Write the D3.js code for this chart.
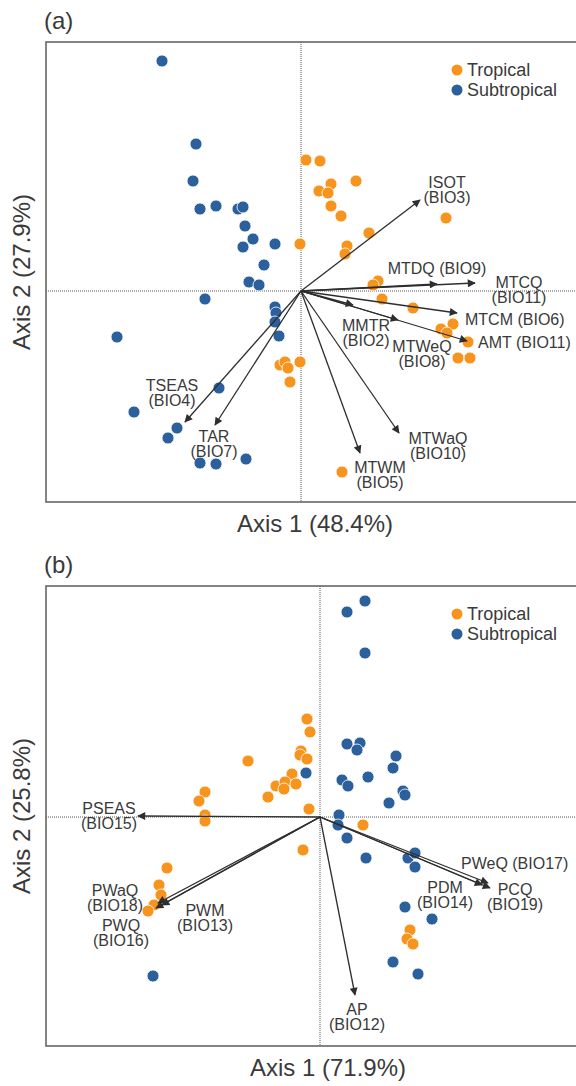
<!DOCTYPE html>
<html><head><meta charset="utf-8">
<script src="https://cdn.jsdelivr.net/npm/d3@7"></script>
<style>
html,body{margin:0;padding:0;background:#fff;}
svg{display:block;font-family:"Liberation Sans",Arial,sans-serif;}
</style></head>
<body>
<svg id="chart" width="576" height="1086"></svg>
<script>
// ---------- DATA ----------
const groups = ["Tropical", "Subtropical"];

// Panel (a): temperature variables
const aAxisX = "Axis 1 (48.4%)";
const aAxisY = "Axis 2 (27.9%)";
const aTropX = [0.05,0.19,0.30,0.18,0.27,0.55,0.30,0.40,1.45,0.68,-0.01,0.46,0.44,0.77,0.72,0.81,1.12,1.52,1.40,1.46,1.67,1.57,1.69,0.41,-0.21,-0.16,-0.13,-0.11,-0.01];
const aTropY = [1.31,1.30,1.07,1.00,0.98,1.10,0.85,0.75,0.73,0.58,0.47,0.45,0.37,0.10,0.06,-0.08,-0.17,-0.33,-0.38,-0.42,-0.51,-0.67,-0.67,-1.81,-0.74,-0.71,-0.77,-0.91,-0.71];
const aSubX = [-1.39,-1.05,-1.08,-1.01,-0.85,-0.63,-0.58,-0.56,-0.48,-0.58,-0.26,-0.37,-0.52,-0.42,-0.96,-0.26,-0.25,-0.26,-0.22,-1.84,-0.82,-1.67,-1.24,-1.33,-1.01,-0.85,-0.55];
const aSubY = [2.30,1.47,1.10,0.82,0.85,0.82,0.84,0.65,0.52,0.44,0.47,0.26,0.09,0.06,-0.08,-0.16,-0.22,-0.31,-0.45,-0.46,-0.97,-1.21,-1.37,-1.47,-1.72,-1.73,-1.68];
const aVarNames = ["ISOT|(BIO3)","MTDQ (BIO9)","MTCQ|(BIO11)","MTCM (BIO6)","AMT (BIO11)","MMTR|(BIO2)","MTWeQ|(BIO8)","TSEAS|(BIO4)","TAR|(BIO7)","MTWM|(BIO5)","MTWaQ|(BIO10)"];
const aVarX = [1.19,1.36,1.74,1.56,1.66,0.52,0.97,-1.16,-0.86,0.59,0.98];
const aVarY = [0.91,0.07,0.08,-0.22,-0.50,-0.14,-0.29,-1.31,-1.34,-1.62,-1.42];

// Panel (b): precipitation variables
const bAxisX = "Axis 1 (71.9%)";
const bAxisY = "Axis 2 (25.8%)";
const bTropX = [-0.13,-0.10,-0.19,-0.20,-0.13,-0.72,-0.28,-0.44,-0.35,-0.24,-0.36,-0.52,-1.15,-1.21,-1.15,-1.15,-0.11,0.43,-0.17,-1.53,-1.61,-1.59,-1.66,-1.72,0.90,0.87,0.93];
const bTropY = [0.98,0.85,0.66,0.62,0.58,0.56,0.43,0.31,0.35,0.33,0.28,0.20,0.25,0.16,0.02,-0.04,0.08,-0.08,-0.33,-0.51,-0.68,-0.78,-0.88,-0.94,-1.13,-1.22,-1.27];
const bSubX = [0.45,0.27,0.45,0.27,0.40,0.37,0.76,0.73,0.22,0.28,0.48,0.83,0.85,0.69,-0.14,0.19,0.18,0.27,0.46,0.88,0.95,0.95,0.85,1.12,0.73,0.98,-1.67];
const bSubY = [2.16,2.05,1.64,0.73,0.74,0.67,0.61,0.49,0.37,0.31,0.40,0.26,0.22,0.14,0.44,0.02,-0.08,-0.21,-0.41,-0.41,-0.36,-0.50,-0.90,-1.02,-1.45,-1.57,-1.59];
const bVarNames = ["PSEAS|(BIO15)","PWaQ|(BIO18)","PWQ|(BIO16)","PWM|(BIO13)","AP|(BIO12)","PWeQ (BIO17)","PDM|(BIO14)","PCQ|(BIO19)"];
const bVarX = [-1.82,-1.62,-1.64,-1.58,0.35,1.68,1.62,1.70];
const bVarY = [0.01,-0.86,-0.91,-0.88,-1.78,-0.66,-0.68,-0.71];

// ---------- LAYOUT / STYLE ----------
const colors = {Tropical:"#f7941d", Subtropical:"#2b609c"};
const textCol = "#3a3a3a";
// label offsets (px) relative to arrow tips: [dx, dy of first line, anchor]
const aLabelOff = [[27,-18,"middle"],[0,-16,"middle"],[44,-1,"middle"],[8,6,"start"],[11,1,"start"],[13,20,"middle"],[24,26,"middle"],[-13,-37,"middle"],[-1,11,"middle"],[20,14,"middle"],[39,5,"middle"]];
const bLabelOff = [[-29,-8,"middle"],[-43,-13,"middle"],[-35,17,"middle"],[43,5,"middle"],[2,14,"middle"],[-27,-20,"start"],[-37,2,"middle"],[25,1,"middle"]];

const svg = d3.select("#chart");
const defs = svg.append("defs");
defs.append("marker").attr("id","arrow").attr("viewBox","0 0 10 10")
  .attr("refX",9).attr("refY",5).attr("markerWidth",11).attr("markerHeight",8)
  .attr("markerUnits","userSpaceOnUse").attr("orient","auto")
  .append("path").attr("d","M0,0 L10,5 L0,10 Z").attr("fill","#2e2e2e");

function drawPanel(cfg){
  const g = svg.append("g");
  const x = d3.scaleLinear().domain(cfg.xDom).range([46, 611]);
  const y = d3.scaleLinear().domain(cfg.yDom).range([cfg.bottom, cfg.top]);

  // panel letter
  g.append("text").attr("x",44).attr("y",cfg.top-13).attr("font-size",24)
    .attr("fill",textCol).text(cfg.letter);

  // box
  g.append("rect").attr("x",x.range()[0]).attr("y",cfg.top)
    .attr("width",x.range()[1]-x.range()[0]).attr("height",cfg.bottom-cfg.top)
    .attr("fill","none").attr("stroke","#666").attr("stroke-width",1.6);

  // zero lines
  g.append("line").attr("x1",x.range()[0]).attr("x2",x.range()[1])
    .attr("y1",y(0)).attr("y2",y(0))
    .attr("stroke","#555").attr("stroke-width",1).attr("stroke-dasharray","1,1");
  g.append("line").attr("x1",x(0)).attr("x2",x(0))
    .attr("y1",cfg.top).attr("y2",cfg.bottom)
    .attr("stroke","#555").attr("stroke-width",1).attr("stroke-dasharray","1,1");

  // points
  const pts = [];
  cfg.tropX.forEach((v,i)=>pts.push({g:"Tropical",x:v,y:cfg.tropY[i]}));
  cfg.subX.forEach((v,i)=>pts.push({g:"Subtropical",x:v,y:cfg.subY[i]}));
  g.append("g").selectAll("circle").data(pts).join("circle")
    .attr("cx",d=>x(d.x)).attr("cy",d=>y(d.y)).attr("r",6)
    .attr("fill",d=>colors[d.g]).attr("stroke","#fff").attr("stroke-width",0.8);

  // arrows
  const vars = cfg.names.map((n,i)=>({name:n,x:cfg.vx[i],y:cfg.vy[i],off:cfg.off[i]}));
  g.append("g").selectAll("line").data(vars).join("line")
    .attr("x1",x(0)).attr("y1",y(0))
    .attr("x2",d=>x(d.x)).attr("y2",d=>y(d.y))
    .attr("stroke","#2e2e2e").attr("stroke-width",1.3)
    .attr("marker-end","url(#arrow)");

  // labels
  const lab = g.append("g").attr("font-size",16).attr("fill",textCol);
  vars.forEach(d=>{
    const lines = d.name.split("|");
    const t = lab.append("text").attr("text-anchor",d.off[2]);
    lines.forEach((ln,k)=>{
      t.append("tspan").attr("x",x(d.x)+d.off[0])
        .attr("y",y(d.y)+d.off[1]+k*15).attr("dy","0.35em").text(ln);
    });
  });

  // legend
  const lg = g.append("g");
  groups.forEach((gr,k)=>{
    const cy = cfg.top+28+k*20;
    lg.append("circle").attr("cx",457).attr("cy",cy).attr("r",5.5).attr("fill",colors[gr]);
    lg.append("text").attr("x",467).attr("y",cy).attr("dy","0.35em")
      .attr("font-size",18).attr("fill",textCol).text(gr);
  });

  // axis titles
  g.append("text").attr("x",cfg.xLabX).attr("y",cfg.bottom+22).attr("dy","0.35em")
    .attr("text-anchor","middle").attr("font-size",24).attr("fill",textCol).text(cfg.axX);
  g.append("text").attr("transform",`translate(22,${(cfg.top+cfg.bottom)/2}) rotate(-90)`)
    .attr("dy","0.35em").attr("text-anchor","middle").attr("font-size",24)
    .attr("fill",textCol).text(cfg.axY);
}

drawPanel({letter:"(a)", top:42, bottom:502, xDom:[-2.55,3.10], yDom:[-2.11,2.49],
  tropX:aTropX, tropY:aTropY, subX:aSubX, subY:aSubY,
  names:aVarNames, vx:aVarX, vy:aVarY, off:aLabelOff,
  axX:aAxisX, axY:aAxisY, xLabX:315});
drawPanel({letter:"(b)", top:586, bottom:1046, xDom:[-2.74,2.91], yDom:[-2.29,2.31],
  tropX:bTropX, tropY:bTropY, subX:bSubX, subY:bSubY,
  names:bVarNames, vx:bVarX, vy:bVarY, off:bLabelOff,
  axX:bAxisX, axY:bAxisY, xLabX:328});
</script>
</body></html>
